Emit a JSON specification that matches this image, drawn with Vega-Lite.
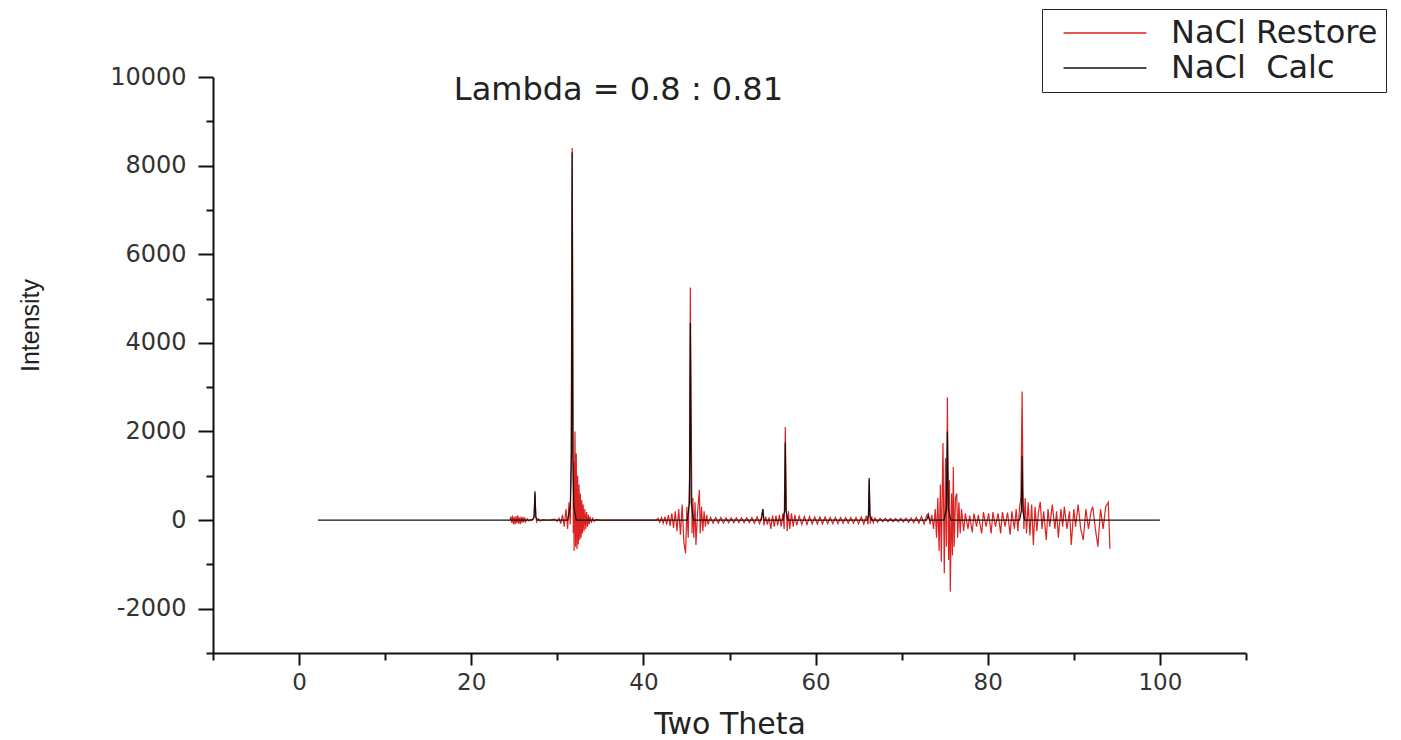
{
  "$schema": "https://vega.github.io/schema/vega-lite/v6.json",
  "width": 1033,
  "height": 576,
  "autosize": {"type": "none"},
  "padding": {"left": 213, "top": 77, "right": 155, "bottom": 87},
  "background": "white",
  "config": {
    "view": {"stroke": null},
    "font": "DejaVu Sans",
    "axis": {"grid": false}
  },
  "datasets": {
    "restore": [
      {"theta":24.5,"intensity":0},{"theta":24.6,"intensity":80},{"theta":24.7,"intensity":-60},{"theta":24.8,"intensity":100},{"theta":24.9,"intensity":-90},{"theta":25.0,"intensity":70},{"theta":25.1,"intensity":-100},{"theta":25.2,"intensity":90},{"theta":25.3,"intensity":-70},{"theta":25.4,"intensity":110},{"theta":25.5,"intensity":-80},{"theta":25.6,"intensity":60},{"theta":25.7,"intensity":-90},{"theta":25.8,"intensity":80},{"theta":25.9,"intensity":-60},{"theta":26.0,"intensity":70},{"theta":26.1,"intensity":-50},{"theta":26.2,"intensity":60},{"theta":26.3,"intensity":-40},{"theta":26.5,"intensity":30},{"theta":26.7,"intensity":-20},{"theta":26.9,"intensity":10},
      {"theta":27.2,"intensity":20},{"theta":27.3,"intensity":120},{"theta":27.4,"intensity":600},{"theta":27.5,"intensity":100},{"theta":27.6,"intensity":-40},{"theta":27.8,"intensity":30},{"theta":28.0,"intensity":-20},{"theta":28.3,"intensity":10},{"theta":28.7,"intensity":0},{"theta":29.2,"intensity":5},{"theta":29.7,"intensity":20},{"theta":30.0,"intensity":-30},{"theta":30.2,"intensity":40},{"theta":30.4,"intensity":-80},{"theta":30.6,"intensity":120},{"theta":30.8,"intensity":-150},{"theta":31.0,"intensity":250},{"theta":31.2,"intensity":-200},{"theta":31.35,"intensity":400},{"theta":31.5,"intensity":-100},{"theta":31.6,"intensity":1200},{"theta":31.72,"intensity":8400},{"theta":31.8,"intensity":5100},{"theta":31.85,"intensity":-300},{"theta":31.9,"intensity":1300},{"theta":31.95,"intensity":-700},{"theta":32.05,"intensity":2000},{"theta":32.12,"intensity":-600},{"theta":32.2,"intensity":1500},{"theta":32.28,"intensity":-650},{"theta":32.36,"intensity":1000},{"theta":32.44,"intensity":-550},{"theta":32.52,"intensity":800},{"theta":32.6,"intensity":-450},{"theta":32.68,"intensity":600},{"theta":32.76,"intensity":-400},{"theta":32.84,"intensity":450},{"theta":32.92,"intensity":-300},{"theta":33.0,"intensity":350},{"theta":33.1,"intensity":-250},{"theta":33.2,"intensity":250},{"theta":33.3,"intensity":-200},{"theta":33.4,"intensity":180},{"theta":33.5,"intensity":-150},{"theta":33.6,"intensity":120},{"theta":33.7,"intensity":-100},{"theta":33.8,"intensity":80},{"theta":33.95,"intensity":-60},{"theta":34.1,"intensity":40},{"theta":34.3,"intensity":-30},{"theta":34.5,"intensity":15},{"theta":35.0,"intensity":0},{"theta":41.5,"intensity":0},
      {"theta":41.7,"intensity":40},{"theta":41.9,"intensity":-50},{"theta":42.1,"intensity":60},{"theta":42.3,"intensity":-70},{"theta":42.5,"intensity":80},{"theta":42.7,"intensity":-100},{"theta":42.9,"intensity":110},{"theta":43.1,"intensity":-130},{"theta":43.3,"intensity":150},{"theta":43.5,"intensity":-180},{"theta":43.7,"intensity":200},{"theta":43.9,"intensity":-250},{"theta":44.1,"intensity":250},{"theta":44.3,"intensity":-330},{"theta":44.5,"intensity":350},{"theta":44.7,"intensity":-500},{"theta":44.9,"intensity":-750},{"theta":45.05,"intensity":300},{"theta":45.2,"intensity":-400},{"theta":45.35,"intensity":900},{"theta":45.45,"intensity":5250},{"theta":45.55,"intensity":2500},{"theta":45.65,"intensity":-300},{"theta":45.75,"intensity":500},{"theta":45.85,"intensity":-400},{"theta":46.0,"intensity":400},{"theta":46.1,"intensity":-560},{"theta":46.3,"intensity":200},{"theta":46.5,"intensity":680},{"theta":46.6,"intensity":-300},{"theta":46.75,"intensity":300},{"theta":46.9,"intensity":-250},{"theta":47.05,"intensity":200},{"theta":47.2,"intensity":-150},{"theta":47.35,"intensity":120},{"theta":47.5,"intensity":-100},
      {"theta":47.8,"intensity":60},{"theta":48.1,"intensity":-70},{"theta":48.4,"intensity":60},{"theta":48.7,"intensity":-70},{"theta":49.0,"intensity":60},{"theta":49.3,"intensity":-70},{"theta":49.6,"intensity":50},{"theta":49.9,"intensity":-60},{"theta":50.2,"intensity":50},{"theta":50.5,"intensity":-60},{"theta":50.8,"intensity":50},{"theta":51.1,"intensity":-60},{"theta":51.4,"intensity":50},{"theta":51.7,"intensity":-60},{"theta":52.0,"intensity":50},{"theta":52.3,"intensity":-60},{"theta":52.6,"intensity":60},{"theta":52.9,"intensity":-70},{"theta":53.2,"intensity":70},{"theta":53.5,"intensity":-80},{"theta":53.75,"intensity":100},{"theta":53.87,"intensity":250},{"theta":54.0,"intensity":-120},{"theta":54.2,"intensity":80},{"theta":54.4,"intensity":-100},{"theta":54.6,"intensity":60},{"theta":54.8,"intensity":-200},{"theta":55.0,"intensity":100},{"theta":55.2,"intensity":-150},{"theta":55.4,"intensity":100},{"theta":55.6,"intensity":-120},{"theta":55.8,"intensity":120},{"theta":56.0,"intensity":-150},{"theta":56.2,"intensity":150},{"theta":56.35,"intensity":-200},{"theta":56.48,"intensity":2100},{"theta":56.6,"intensity":300},{"theta":56.7,"intensity":-250},{"theta":56.85,"intensity":200},{"theta":57.0,"intensity":-200},{"theta":57.2,"intensity":150},{"theta":57.4,"intensity":-150},{"theta":57.6,"intensity":120},{"theta":57.8,"intensity":-120},
      {"theta":58.1,"intensity":90},{"theta":58.4,"intensity":-100},{"theta":58.7,"intensity":80},{"theta":59.0,"intensity":-100},{"theta":59.3,"intensity":80},{"theta":59.6,"intensity":-90},{"theta":59.9,"intensity":70},{"theta":60.2,"intensity":-90},{"theta":60.5,"intensity":70},{"theta":60.8,"intensity":-90},{"theta":61.1,"intensity":70},{"theta":61.4,"intensity":-80},{"theta":61.7,"intensity":60},{"theta":62.0,"intensity":-80},{"theta":62.3,"intensity":60},{"theta":62.6,"intensity":-80},{"theta":62.9,"intensity":60},{"theta":63.2,"intensity":-70},{"theta":63.5,"intensity":60},{"theta":63.8,"intensity":-70},{"theta":64.1,"intensity":60},{"theta":64.4,"intensity":-70},{"theta":64.7,"intensity":60},{"theta":65.0,"intensity":-80},{"theta":65.3,"intensity":70},{"theta":65.6,"intensity":-90},{"theta":65.9,"intensity":100},{"theta":66.1,"intensity":-100},{"theta":66.23,"intensity":900},{"theta":66.35,"intensity":-80},{"theta":66.5,"intensity":80},{"theta":66.7,"intensity":-60},{"theta":66.9,"intensity":50},{"theta":67.2,"intensity":-50},
      {"theta":67.5,"intensity":40},{"theta":67.8,"intensity":-40},{"theta":68.1,"intensity":40},{"theta":68.4,"intensity":-40},{"theta":68.7,"intensity":35},{"theta":69.0,"intensity":-40},{"theta":69.3,"intensity":35},{"theta":69.6,"intensity":-40},{"theta":69.9,"intensity":40},{"theta":70.2,"intensity":-40},{"theta":70.5,"intensity":45},{"theta":70.8,"intensity":-50},{"theta":71.1,"intensity":50},{"theta":71.4,"intensity":-60},{"theta":71.7,"intensity":60},{"theta":72.0,"intensity":-70},{"theta":72.3,"intensity":80},{"theta":72.6,"intensity":-90},{"theta":72.9,"intensity":100},{"theta":73.1,"intensity":150},{"theta":73.3,"intensity":-100},{"theta":73.5,"intensity":120},{"theta":73.7,"intensity":-200},{"theta":73.9,"intensity":250},{"theta":74.05,"intensity":-400},{"theta":74.2,"intensity":500},{"theta":74.35,"intensity":-700},{"theta":74.5,"intensity":800},{"theta":74.6,"intensity":-940},{"theta":74.8,"intensity":1740},{"theta":74.95,"intensity":-1200},{"theta":75.1,"intensity":1400},{"theta":75.2,"intensity":-600},{"theta":75.31,"intensity":2770},{"theta":75.45,"intensity":-900},{"theta":75.55,"intensity":900},{"theta":75.65,"intensity":-1620},{"theta":75.8,"intensity":600},{"theta":75.9,"intensity":-800},{"theta":76.0,"intensity":1200},{"theta":76.1,"intensity":-600},{"theta":76.25,"intensity":500},{"theta":76.4,"intensity":600},{"theta":76.5,"intensity":-400},{"theta":76.65,"intensity":400},{"theta":76.8,"intensity":-300},{"theta":76.95,"intensity":250},
      {"theta":77.2,"intensity":-250},{"theta":77.4,"intensity":150},{"theta":77.7,"intensity":-200},{"theta":77.9,"intensity":100},{"theta":78.2,"intensity":-280},{"theta":78.4,"intensity":150},{"theta":78.7,"intensity":-150},{"theta":78.9,"intensity":120},{"theta":79.3,"intensity":-300},{"theta":79.5,"intensity":180},{"theta":79.8,"intensity":-150},{"theta":80.1,"intensity":150},{"theta":80.4,"intensity":-300},{"theta":80.6,"intensity":180},{"theta":80.9,"intensity":-150},{"theta":81.2,"intensity":150},{"theta":81.5,"intensity":-300},{"theta":81.7,"intensity":180},{"theta":82.0,"intensity":-150},{"theta":82.3,"intensity":170},{"theta":82.6,"intensity":-330},{"theta":82.8,"intensity":200},{"theta":83.1,"intensity":-200},{"theta":83.3,"intensity":250},{"theta":83.5,"intensity":-250},{"theta":83.7,"intensity":300},{"theta":83.85,"intensity":500},{"theta":83.99,"intensity":2900},{"theta":84.1,"intensity":600},{"theta":84.2,"intensity":-200},{"theta":84.35,"intensity":500},{"theta":84.5,"intensity":-300},{"theta":84.7,"intensity":400},{"theta":84.9,"intensity":-350},{"theta":85.1,"intensity":350},{"theta":85.3,"intensity":-560},{"theta":85.5,"intensity":300},{"theta":85.7,"intensity":-250},{"theta":85.9,"intensity":200},{"theta":86.1,"intensity":410},{"theta":86.3,"intensity":-200},{"theta":86.5,"intensity":200},{"theta":86.8,"intensity":-450},{"theta":87.0,"intensity":250},{"theta":87.2,"intensity":-150},{"theta":87.5,"intensity":350},{"theta":87.8,"intensity":-200},{"theta":88.0,"intensity":200},{"theta":88.2,"intensity":-400},{"theta":88.5,"intensity":250},{"theta":88.7,"intensity":-150},{"theta":88.9,"intensity":300},{"theta":89.2,"intensity":-200},{"theta":89.5,"intensity":200},{"theta":89.7,"intensity":-560},{"theta":90.0,"intensity":250},{"theta":90.2,"intensity":-150},{"theta":90.5,"intensity":350},{"theta":90.8,"intensity":-200},{"theta":91.1,"intensity":-450},{"theta":91.4,"intensity":250},{"theta":91.7,"intensity":-200},{"theta":92.0,"intensity":200},{"theta":92.2,"intensity":300},{"theta":92.5,"intensity":-200},{"theta":92.8,"intensity":-600},{"theta":93.1,"intensity":250},{"theta":93.4,"intensity":-200},{"theta":93.7,"intensity":300},{"theta":94.0,"intensity":400},{"theta":94.2,"intensity":-650}
    ],
    "calc": [
      {"theta":2.2,"intensity":0},{"theta":27.1,"intensity":0},{"theta":27.3,"intensity":60},{"theta":27.4,"intensity":650},{"theta":27.5,"intensity":60},{"theta":27.7,"intensity":0},
      {"theta":31.2,"intensity":0},{"theta":31.5,"intensity":300},{"theta":31.64,"intensity":1500},{"theta":31.72,"intensity":8300},{"theta":31.8,"intensity":1500},{"theta":31.92,"intensity":300},{"theta":32.2,"intensity":0},
      {"theta":45.1,"intensity":0},{"theta":45.35,"intensity":400},{"theta":45.45,"intensity":4450},{"theta":45.55,"intensity":400},{"theta":45.8,"intensity":0},
      {"theta":53.7,"intensity":0},{"theta":53.87,"intensity":250},{"theta":54.0,"intensity":0},
      {"theta":56.2,"intensity":0},{"theta":56.4,"intensity":200},{"theta":56.48,"intensity":1750},{"theta":56.56,"intensity":200},{"theta":56.8,"intensity":0},
      {"theta":66.0,"intensity":0},{"theta":66.15,"intensity":100},{"theta":66.23,"intensity":950},{"theta":66.31,"intensity":100},{"theta":66.5,"intensity":0},
      {"theta":72.9,"intensity":0},{"theta":73.08,"intensity":100},{"theta":73.25,"intensity":0},
      {"theta":74.9,"intensity":0},{"theta":75.2,"intensity":250},{"theta":75.31,"intensity":2000},{"theta":75.42,"intensity":250},{"theta":75.7,"intensity":0},
      {"theta":83.7,"intensity":0},{"theta":83.9,"intensity":200},{"theta":83.99,"intensity":1450},{"theta":84.08,"intensity":200},{"theta":84.3,"intensity":0},
      {"theta":100,"intensity":0}
    ]
  },
  "resolve": {"axis": {"x": "independent", "y": "independent"}},
  "layer": [
    {
      "data": {"name": "restore"},
      "mark": {"type": "line", "strokeWidth": 1.2, "interpolate": "linear"},
      "encoding": {
        "x": {"field": "theta", "type": "quantitative", "sort": null,
          "scale": {"domain": [-10, 110], "nice": false, "zero": false},
          "axis": {"orient": "bottom", "title": "Two Theta", "values": [0, 20, 40, 60, 80, 100],
            "domainColor": "#111", "domainWidth": 2, "tickColor": "#111", "tickWidth": 2, "tickSize": 12,
            "labelFont": "DejaVu Sans", "labelFontSize": 23, "labelColor": "#333", "labelPadding": 6,
            "labelFlush": false, "labelOverlap": false,
            "titleFont": "DejaVu Sans", "titleFontSize": 30, "titleFontWeight": "normal", "titleColor": "#222", "titlePadding": 15}},
        "y": {"field": "intensity", "type": "quantitative",
          "scale": {"domain": [-3000, 10000], "nice": false, "zero": false},
          "axis": {"orient": "left", "title": "Intensity", "values": [-2000, 0, 2000, 4000, 6000, 8000, 10000],
            "domainColor": "#111", "domainWidth": 2, "tickColor": "#111", "tickWidth": 2, "tickSize": 15,
            "labelFont": "DejaVu Sans", "labelFontSize": 24, "labelColor": "#333", "labelPadding": 12,
            "labelFlush": false, "labelOverlap": false, "labelExpr": "'' + datum.value",
            "titleFont": "Liberation Sans Narrow, Liberation Sans", "titleFontSize": 25, "titleFontWeight": "normal", "titleColor": "#222",
            "titleX": -183, "titleY": 248, "titleBaseline": "middle", "titleAngle": -90}},
        "color": {"datum": "NaCl Restore", "type": "nominal",
          "scale": {"domain": ["NaCl Restore", "NaCl\u00a0 Calc"], "range": ["#dd2222", "#111111"]},
          "legend": {"orient": "none", "legendX": 829, "legendY": -68, "title": null,
            "strokeColor": "#222", "fillColor": "white", "padding": 8,
            "symbolType": "M-4,0H4", "symbolSize": 430, "symbolStrokeWidth": 1.5, "symbolOffset": 39,
            "labelFont": "DejaVu Sans", "labelFontSize": 32, "labelColor": "#222", "labelOffset": 50,
            "rowPadding": 3, "labelLimit": 400}}
      }
    },
    {
      "data": {"name": "calc"},
      "mark": {"type": "line", "strokeWidth": 1.2},
      "encoding": {
        "x": {"field": "theta", "type": "quantitative", "sort": null, "axis": null},
        "y": {"field": "intensity", "type": "quantitative", "axis": null},
        "color": {"datum": "NaCl\u00a0 Calc", "type": "nominal"}
      }
    },
    {
      "data": {"values": [{}]},
      "mark": {"type": "text", "text": "Lambda = 0.8 : 0.81", "font": "DejaVu Sans", "fontSize": 32, "color": "#222", "align": "center", "baseline": "middle"},
      "encoding": {
        "x": {"datum": 37.1, "type": "quantitative", "axis": null},
        "y": {"datum": 9700, "type": "quantitative", "axis": null}
      }
    },
    {
      "data": {"values": [{}]},
      "mark": {"type": "point", "opacity": 0},
      "encoding": {
        "x": {"datum": 0, "type": "quantitative",
          "axis": {"orient": "bottom", "title": null, "values": [-10, 10, 30, 50, 70, 90, 110], "labels": false, "domain": false,
            "tickColor": "#111", "tickWidth": 2, "tickSize": 7}},
        "y": {"datum": 0, "type": "quantitative",
          "axis": {"orient": "left", "title": null, "values": [-3000, -1000, 1000, 3000, 5000, 7000, 9000], "labels": false, "domain": false,
            "tickColor": "#111", "tickWidth": 2, "tickSize": 7}}
      }
    }
  ]
}
